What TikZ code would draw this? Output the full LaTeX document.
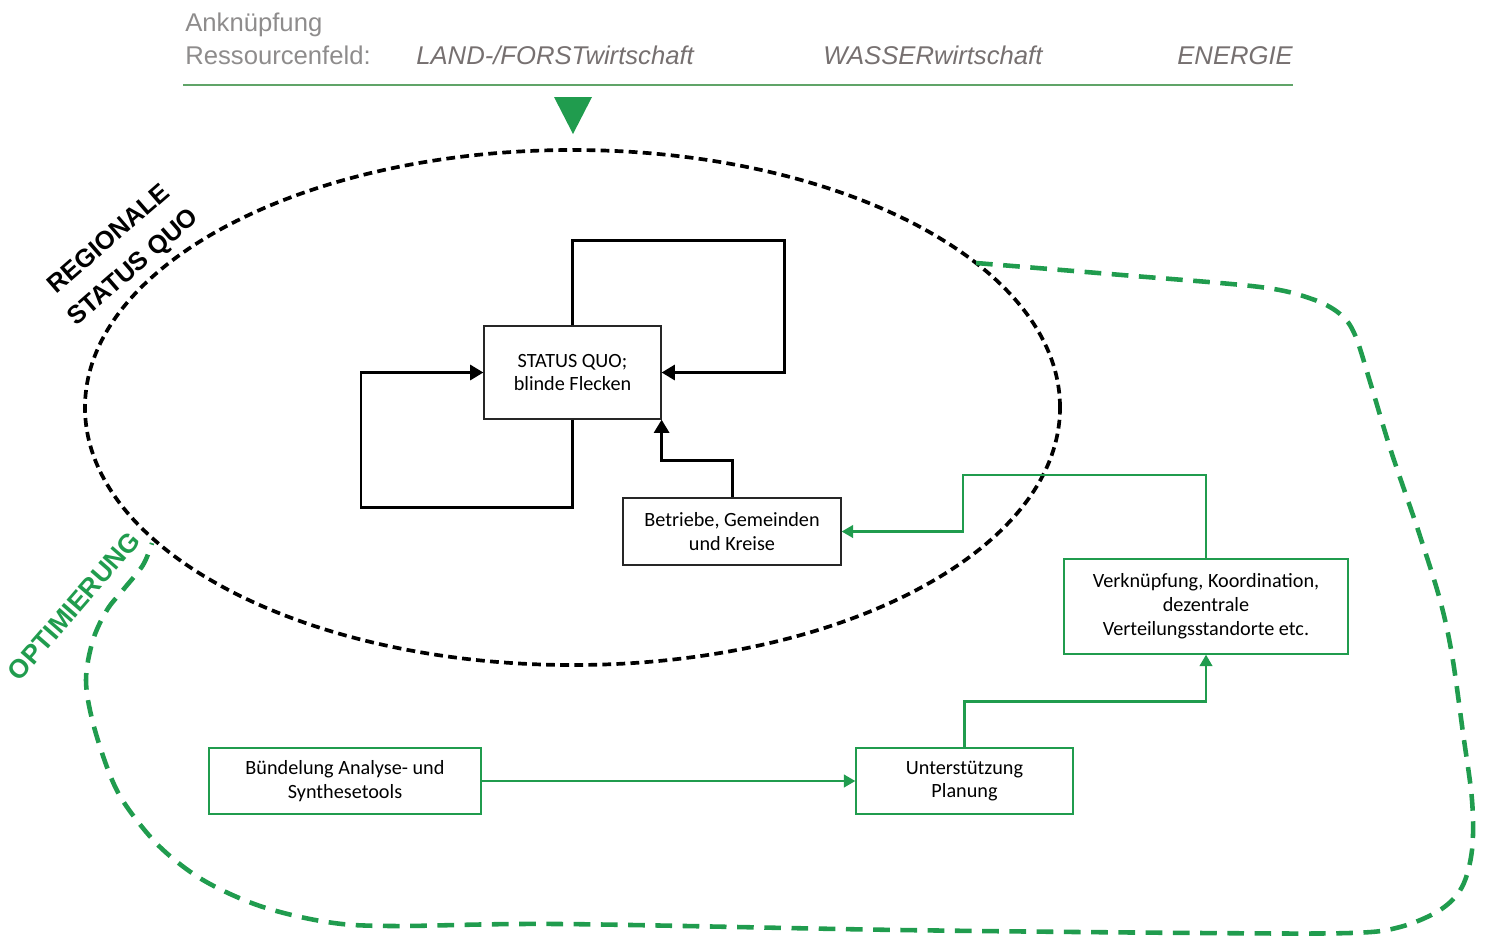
\documentclass[tikz,border=0pt]{standalone}
\usepackage{fontspec}
\setmainfont{Carlito}
\newfontfamily\headfont{Liberation Sans}
\usetikzlibrary{arrows.meta}

\definecolor{optgreen}{RGB}{32,156,78}
\definecolor{linegreen}{RGB}{96,164,104}
\definecolor{headgray}{RGB}{142,140,140}
\definecolor{fieldgray}{RGB}{118,112,112}

\tikzset{
  headtext/.style={anchor=base west, inner sep=0pt, font=\headfont\fontsize{14.6}{17}\selectfont},
  sqbox/.style={draw=black!85, line width=0.7pt, align=center, inner sep=0pt,
    font=\fontsize{11.5}{13.6}\selectfont},
  grbox/.style={sqbox, draw=optgreen},
  fback/.style={line width=1.7pt, -{Triangle[length=7.5pt,width=8.5pt]}},
  feed/.style={optgreen, line width=1.6pt, -{Triangle[length=6.5pt,width=7pt]}},
  ring/.style={line width=2.1pt, dash pattern=on 5pt off 3pt},
  zone/.style={optgreen, line width=2.6pt, dash pattern=on 9.5pt off 6pt},
  tag/.style={font=\headfont\bfseries\fontsize{14.5}{21}\selectfont, align=center, inner sep=0pt}
}

\begin{document}
\begin{tikzpicture}[x=0.2mm, y=-0.2mm]
\useasboundingbox (0,0) rectangle (1490,943);

% header
\node[headtext, headgray] (ank) at (185,31) {Anknüpfung};
\node[headtext, headgray] (ress) at (185,64) {Ressourcenfeld:};
\node[headtext, fieldgray, font=\headfont\itshape\fontsize{14.6}{17}\selectfont] (land) at (416,64) {LAND-/FORSTwirtschaft};
\node[headtext, fieldgray, font=\headfont\itshape\fontsize{14.6}{17}\selectfont] (wasser) at (823,64) {WASSERwirtschaft};
\node[headtext, fieldgray, font=\headfont\itshape\fontsize{14.6}{17}\selectfont] (energie) at (1177,64) {ENERGIE};
\draw[linegreen, line width=0.8pt] (183,85) -- (1293,85);
\fill[optgreen] (554,97) -- (592,97) -- (573,134) -- cycle;

% regional status quo
\draw[ring] (572.5,407.5) ellipse [x radius=97.5mm, y radius=51.5mm];
\node[tag, rotate=41] (reg) at (122,254) {REGIONALE\\STATUS QUO};

% optimisation zone
\draw[zone] plot[smooth, tension=0.55] coordinates {
  (976,263) (1122,275) (1260,287) (1312,299) (1340,314) (1355,335) (1371,385)
  (1391,451) (1419,533) (1440,600) (1452,655) (1463,733) (1472,800) (1472,850)
  (1462,887) (1440,910) (1400,927) (1350,933) (1200,933) (900,930) (560,924)
  (393,926) (327,922) (260,906) (203,880) (160,847) (127,807) (110,775)
  (93,723) (86,680) (93,640) (107,610) (123,590) (143,565) (152,543)};
\node[tag, optgreen, rotate=49, font=\headfont\bfseries\fontsize{15}{18}\selectfont] (opt) at (74,606) {OPTIMIERUNG};

% boxes
\node[sqbox, minimum width=35.4mm, minimum height=18.6mm] (sq) at (572.5,372.5) {STATUS QUO;\\blinde Flecken};
\node[sqbox, minimum width=43.6mm, minimum height=13.4mm] (bgk) at (732,531.5) {Betriebe, Gemeinden\\und Kreise};
\node[grbox, minimum width=56.8mm, minimum height=19mm] (vks) at (1206,606.5) {Verknüpfung, Koordination,\\dezentrale\\Verteilungsstandorte etc.};
\node[grbox, minimum width=54.4mm, minimum height=13.2mm] (bau) at (345,781) {Bündelung Analyse- und\\Synthesetools};
\node[grbox, minimum width=43.4mm, minimum height=13.2mm] (up) at (964.5,781) {Unterstützung\\Planung};

% routing corners
\coordinate (tr) at (784,240);
\coordinate (bl) at (361,507);
\coordinate (vk) at (963,475);

% feedback loops
\draw[fback] (sq.north) |- (tr) |- (sq.east);
\draw[fback] (sq.south) |- (bl) |- (sq.west);
\draw[fback] (bgk.north) -- ++(0,-37) -| (sq.south east);

% green links
\draw[feed] (bau.east) -- (up.west);
\draw[feed] (up.north) -- ++(0,-46) -| (vks.south);
\draw[feed] (vks.north) |- (vk) |- (bgk.east);

\end{tikzpicture}
\end{document}
